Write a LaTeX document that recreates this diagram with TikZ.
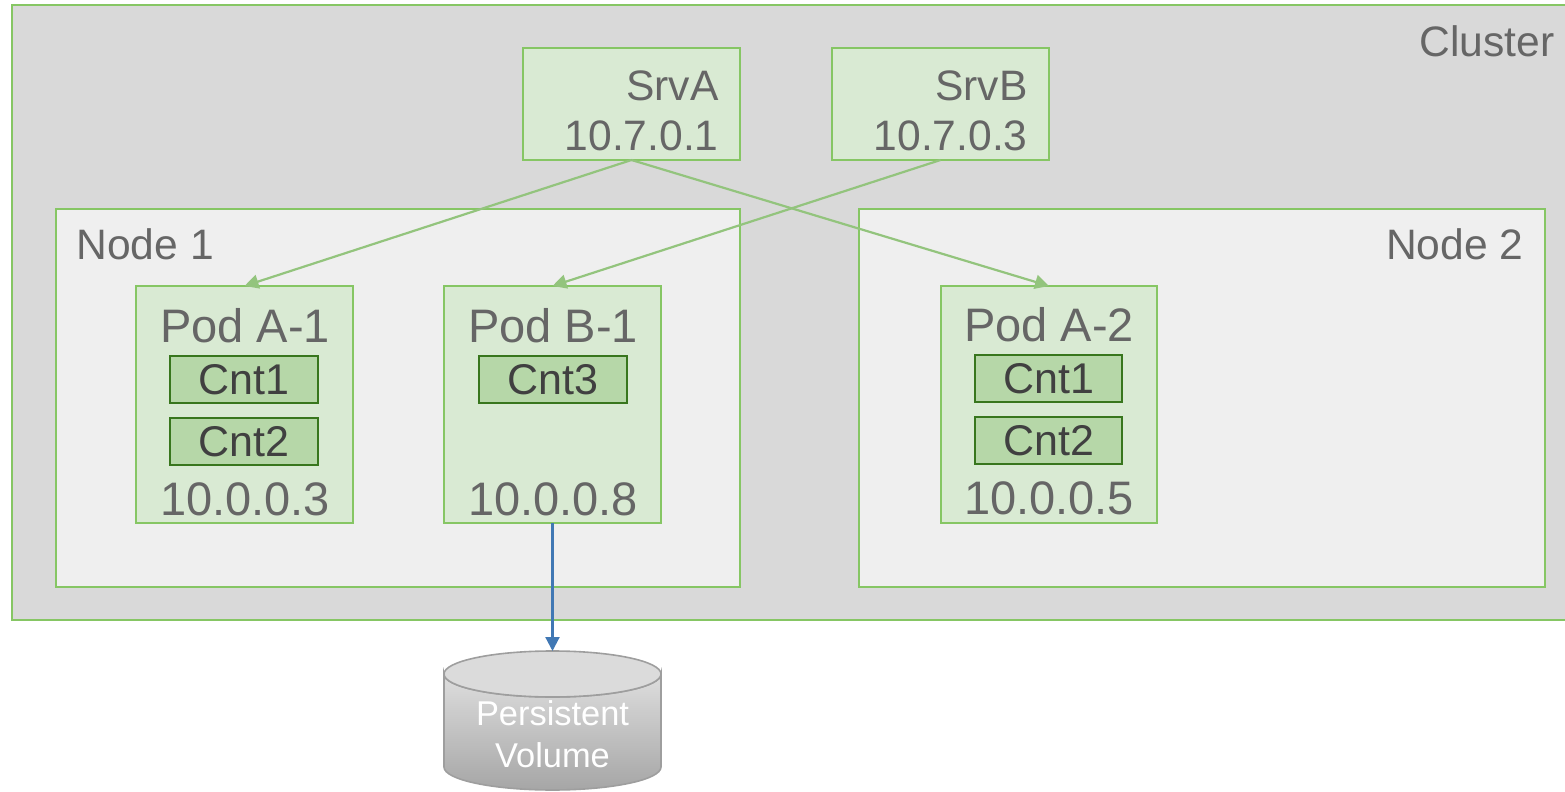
\documentclass[tikz,border=0pt]{standalone}
\usepackage{fontspec}
\setmainfont{Liberation Sans}
\usetikzlibrary{fit,arrows.meta}
\definecolor{clfill}{HTML}{D9D9D9}
\definecolor{ndfill}{HTML}{EFEFEF}
\definecolor{gborder}{HTML}{86C664}
\definecolor{podfill}{HTML}{D9EAD3}
\definecolor{cntfill}{HTML}{B6D7A8}
\definecolor{cntborder}{HTML}{38761D}
\definecolor{txt}{HTML}{666666}
\definecolor{cnttxt}{HTML}{404040}
\definecolor{garrow}{HTML}{93C47D}
\definecolor{barrow}{HTML}{4178B4}
\tikzset{
  frame/.style={draw=gborder, line width=1pt, inner sep=0pt, outer sep=0pt},
  clusterbox/.style={frame, fill=clfill},
  nodebox/.style={frame, fill=ndfill},
  srvbox/.style={frame, fill=podfill},
  podbox/.style={frame, fill=podfill},
  cntbox/.style={draw=cntborder, line width=0.7pt, fill=cntfill, inner sep=0pt, outer sep=0pt},
  cnttext/.style={text=cnttxt, font=\fontsize{21.5}{24}\selectfont, inner sep=0pt},
  big/.style={text=txt, font=\fontsize{23.5}{26}\selectfont, inner sep=0pt},
  mid/.style={text=txt, font=\fontsize{21.3}{24}\selectfont, inner sep=0pt},
  pvtext/.style={text=white, font=\fontsize{17.2}{19}\selectfont, inner sep=0pt, anchor=base},
  garr/.style={draw=garrow, line width=1.1pt, -{Triangle[length=7pt,width=7pt]}},
  barr/.style={draw=barrow, line width=1.1pt, -{Triangle[length=7pt,width=7pt]}},
}
\begin{document}
\begin{tikzpicture}[x=0.5pt,y=-0.5pt]
\useasboundingbox (0,0) rectangle (1565,792);
% cluster
\node[clusterbox, fit={(12,5) (1570,620)}] (cluster) {};
\node[mid, anchor=base east] (clusterlbl) at (1555,57) {Cluster};
% services
\node[srvbox, fit={(523,48) (740,160)}] (srva) {};
\node[mid, anchor=base east] (srvaname) at (719,101) {SrvA};
\node[mid, anchor=base east] (srvaip) at (719,151) {10.7.0.1};
\node[srvbox, fit={(832,48) (1049,160)}] (srvb) {};
\node[mid, anchor=base east] (srvbname) at (1028,101) {SrvB};
\node[mid, anchor=base east] (srvbip) at (1028,151) {10.7.0.3};
% nodes
\node[nodebox, fit={(56,209) (740,587)}] (node1) {};
\node[mid, anchor=base west] (node1lbl) at (76,259) {Node 1};
\node[nodebox, fit={(859,209) (1545,587)}] (node2) {};
\node[mid, anchor=base east] (node2lbl) at (1524,259) {Node 2};
% pods
\node[podbox, fit={(136,286) (353,523)}] (poda1) {};
\node[big, anchor=base] (poda1lbl) at (245,342) {Pod A-1};
\node[cntbox, fit={(170,356) (318,403)}] (a1c1) {};
\node[cnttext] at (a1c1) {Cnt1};
\node[cntbox, fit={(170,418) (318,465)}] (a1c2) {};
\node[cnttext] at (a1c2) {Cnt2};
\node[big, anchor=base] (poda1ip) at (245,515) {10.0.0.3};

\node[podbox, fit={(444,286) (661,523)}] (podb1) {};
\node[big, anchor=base] (podb1lbl) at (553,342) {Pod B-1};
\node[cntbox, fit={(479,356) (627,403)}] (b1c3) {};
\node[cnttext] at (b1c3) {Cnt3};
\node[big, anchor=base] (podb1ip) at (553,515) {10.0.0.8};

\node[podbox, fit={(941,286) (1157,523)}] (poda2) {};
\node[big, anchor=base] (poda2lbl) at (1049,341) {Pod A-2};
\node[cntbox, fit={(975,355) (1122,402)}] (a2c1) {};
\node[cnttext] at (a2c1) {Cnt1};
\node[cntbox, fit={(975,417) (1122,464)}] (a2c2) {};
\node[cnttext] at (a2c2) {Cnt2};
\node[big, anchor=base] (poda2ip) at (1049,514) {10.0.0.5};

% persistent volume cylinder
\coordinate (pvtop) at (552.5,651);
\shade[top color=black!13, bottom color=black!35, draw=black!38, line width=0.8pt]
  (444,674) -- (444,767) arc[start angle=180, end angle=0, x radius=108.5, y radius=23]
  -- (661,674) arc[start angle=0, end angle=180, x radius=108.5, y radius=23] -- cycle;
\draw[fill=black!14, draw=black!38, line width=0.8pt] (552.5,674) ellipse[x radius=108.5, y radius=23];
\node[pvtext] (pv1) at (552.5,725) {Persistent};
\node[pvtext] (pv2) at (552.5,767) {Volume};

% connectors
\draw[garr] (srva.south) -- (poda1.north);
\draw[garr] (srva.south) -- (poda2.north);
\draw[garr] (srvb.south) -- (podb1.north);
\draw[barr] (podb1.south) -- (pvtop);
\end{tikzpicture}
\end{document}
